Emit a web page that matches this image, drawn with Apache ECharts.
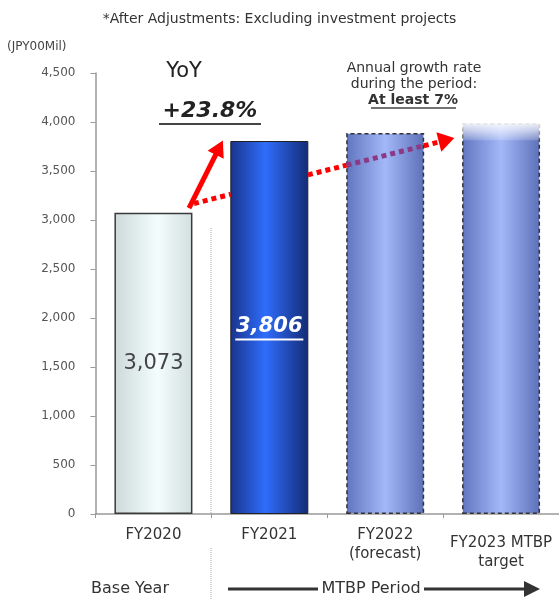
<!DOCTYPE html>
<html>
<head>
<meta charset="utf-8">
<style>
  html, body { margin: 0; padding: 0; background: #fff; }
  #chart { width: 559px; height: 599px; }
</style>
<script src="https://cdn.jsdelivr.net/npm/echarts@6/dist/echarts.min.js"></script>
</head>
<body>
<div id="chart"></div>
<script>
var FONT = 'DejaVu Sans';

// chart data
var categories = ['FY2020', 'FY2021', 'FY2022\n(forecast)', 'FY2023 MTBP\ntarget'];
var salesValues = [3073, 3806, 3888, 3990];
var yMin = 0;
var yMax = 4500;
var yStep = 500;

// annotation arrows, in (category index, value) units
var yoyArrow = [[0.307, 3122], [0.568, 3738]];
var trendArrow = [[0.35, 3168], [2.53, 3816]];

var BAR_HALF = 0.333;

function fmt(v) {
    return Number(v).toLocaleString('en-US');
}

function hGrad(stops) {
    return {
        type: 'linear', x: 0, y: 0, x2: 1, y2: 0,
        colorStops: stops
    };
}

var barStyles = [
    {
        color: hGrad([
            { offset: 0, color: '#cdd9d9' },
            { offset: 0.55, color: '#f3fdfd' },
            { offset: 1, color: '#d3dede' }
        ]),
        borderColor: '#3a3a3a', borderWidth: 1.5
    },
    {
        color: hGrad([
            { offset: 0, color: '#19348c' },
            { offset: 0.45, color: '#2f6dfc' },
            { offset: 1, color: '#142b75' }
        ]),
        borderColor: '#222', borderWidth: 1
    },
    {
        color: hGrad([
            { offset: 0, color: '#6175bf' },
            { offset: 0.5, color: '#a3b8f8' },
            { offset: 1, color: '#5d70b8' }
        ]),
        borderColor: '#333', borderWidth: 1.5, borderType: [4, 3]
    },
    {
        color: hGrad([
            { offset: 0, color: '#6175bf' },
            { offset: 0.5, color: '#a3b8f8' },
            { offset: 1, color: '#5d70b8' }
        ]),
        borderColor: '#333', borderWidth: 1.5, borderType: [4, 3]
    }
];

var barLabels = [
    {
        show: true, position: 'inside',
        color: '#444', fontSize: 21, fontFamily: FONT,
        formatter: function (p) { return fmt(p.value); }
    },
    {
        show: true, position: 'inside',
        formatter: function (p) { return '{v|' + fmt(p.value) + '}\n{u|}'; },
        rich: {
            v: { color: '#fff', fontSize: 21, fontWeight: 'bold', fontStyle: 'italic', fontFamily: FONT, lineHeight: 24 },
            u: { width: 68, height: 2, backgroundColor: '#fff' }
        }
    },
    { show: false },
    { show: false }
];

var barData = salesValues.map(function (v, i) {
    return { value: v, itemStyle: barStyles[i], label: barLabels[i] };
});

// top fade only on the target bar
var fadeData = salesValues.map(function (v, i) {
    return i === 3 ? v : '-';
});

function trendAt(u) {
    var a = trendArrow[0], b = trendArrow[1];
    var t = (u - a[0]) / (b[0] - a[0]);
    return [u, a[1] + (b[1] - a[1]) * t];
}

var RED = '#ff0000';
var PURPLE = '#8c3a86';

var trendSegments = [
    { coords: [trendArrow[0], trendAt(1 - BAR_HALF)] },
    { coords: [trendAt(1 + BAR_HALF), trendAt(2 - BAR_HALF)] },
    { coords: [trendAt(2 - BAR_HALF), trendAt(2 + BAR_HALF)], lineStyle: { color: PURPLE } }
];
var trendHead = [{ coords: [trendAt(2 + BAR_HALF), trendArrow[1]] }];

var chart = echarts.init(document.getElementById('chart'), null, { renderer: 'canvas' });

var option = {
    backgroundColor: '#fff',
    animation: false,
    title: {
        text: '*After Adjustments: Excluding investment projects',
        left: 'center',
        top: 7,
        textStyle: { fontFamily: FONT, fontSize: 14, fontWeight: 'normal', color: '#333' }
    },
    grid: { left: 95.5, right: -5, top: 73, bottom: 85 },
    xAxis: [
        {
            type: 'category',
            data: categories.map(function (c, i) {
                return i === 3 ? { value: c, textStyle: { padding: [8, 0, 0, 0] } } : c;
            }),
            axisLine: { lineStyle: { color: '#999', width: 1.5 } },
            axisTick: { show: true, length: 4, lineStyle: { color: '#999' } },
            axisLabel: {
                interval: 0, margin: 12,
                color: '#333', fontSize: 15, lineHeight: 19, fontFamily: FONT
            }
        },
        {
            type: 'value',
            min: -0.5, max: 3.5,
            show: false
        }
    ],
    yAxis: {
        type: 'value',
        min: yMin, max: yMax, interval: yStep,
        axisLine: { show: true, onZero: false, lineStyle: { color: '#999', width: 1.5 } },
        axisTick: { show: true, length: 5, lineStyle: { color: '#999' } },
        splitLine: { show: false },
        axisLabel: {
            color: '#555', fontSize: 12, fontFamily: FONT, margin: 20,
            formatter: function (v) { return fmt(v); }
        }
    },
    series: [
        {
            type: 'bar',
            barWidth: 78,
            barGap: '-100%',
            data: barData,
            z: 2
        },
        {
            type: 'bar',
            barWidth: 78,
            barGap: '-100%',
            data: fadeData,
            silent: true,
            z: 3,
            itemStyle: {
                color: {
                    type: 'linear', x: 0, y: 0, x2: 0, y2: 1,
                    colorStops: [
                        { offset: 0, color: 'rgba(255,255,255,0.9)' },
                        { offset: 0.02, color: 'rgba(255,255,255,0.6)' },
                        { offset: 0.042, color: 'rgba(255,255,255,0.2)' },
                        { offset: 0.046, color: 'rgba(255,255,255,0)' },
                        { offset: 1, color: 'rgba(255,255,255,0)' }
                    ]
                }
            }
        },
        {
            type: 'lines',
            coordinateSystem: 'cartesian2d',
            xAxisIndex: 1, yAxisIndex: 0,
            z: 5,
            symbol: 'none',
            lineStyle: { color: RED, width: 5, type: [5, 4], opacity: 1, cap: 'butt' },
            data: trendSegments
        },
        {
            type: 'lines',
            coordinateSystem: 'cartesian2d',
            xAxisIndex: 1, yAxisIndex: 0,
            z: 5,
            symbol: ['none', 'triangle'],
            symbolSize: [[1, 1], [20, 16]],
            lineStyle: { color: RED, width: 5, type: [5, 4], opacity: 1, cap: 'butt' },
            data: trendHead
        },
        {
            type: 'lines',
            coordinateSystem: 'cartesian2d',
            xAxisIndex: 1, yAxisIndex: 0,
            z: 6,
            symbol: ['none', 'triangle'],
            symbolSize: [[1, 1], [18, 16]],
            lineStyle: { color: RED, width: 5, type: 'solid', opacity: 1 },
            data: [{ coords: yoyArrow }]
        }
    ],
    graphic: [
        {
            type: 'text', x: 7, y: 47,
            style: { text: '(JPY00Mil)', fontFamily: FONT, fontSize: 12, fill: '#444', textAlign: 'left', textVerticalAlign: 'middle' }
        },
        {
            type: 'text', x: 184, y: 72,
            style: { text: 'YoY', fontFamily: FONT, fontSize: 21, fill: '#222', textAlign: 'center', textVerticalAlign: 'middle' }
        },
        {
            type: 'text', x: 210, y: 111,
            style: { text: '+23.8%', fontFamily: FONT, fontSize: 22, fontWeight: 'bold', fontStyle: 'italic', fill: '#222', textAlign: 'center', textVerticalAlign: 'middle' }
        },
        {
            type: 'line', shape: { x1: 159, y1: 124, x2: 261, y2: 124 },
            style: { stroke: '#444', lineWidth: 2 }
        },
        {
            type: 'text', x: 414, y: 68,
            style: { text: 'Annual growth rate', fontFamily: FONT, fontSize: 14, fill: '#333', textAlign: 'center', textVerticalAlign: 'middle' }
        },
        {
            type: 'text', x: 414, y: 84,
            style: { text: 'during the period:', fontFamily: FONT, fontSize: 14, fill: '#333', textAlign: 'center', textVerticalAlign: 'middle' }
        },
        {
            type: 'text', x: 413, y: 100,
            style: { text: 'At least 7%', fontFamily: FONT, fontSize: 14, fontWeight: 'bold', fill: '#333', textAlign: 'center', textVerticalAlign: 'middle' }
        },
        {
            type: 'line', shape: { x1: 371, y1: 108, x2: 456, y2: 108 },
            style: { stroke: '#444', lineWidth: 1.5 }
        },
        {
            type: 'line', shape: { x1: 211, y1: 228, x2: 211, y2: 513 },
            style: { stroke: '#aaa', lineWidth: 1, lineDash: [1, 1] }
        },
        {
            type: 'line', shape: { x1: 211, y1: 548, x2: 211, y2: 599 },
            style: { stroke: '#aaa', lineWidth: 1, lineDash: [1, 1] }
        },
        {
            type: 'text', x: 130, y: 589,
            style: { text: 'Base Year', fontFamily: FONT, fontSize: 16, fill: '#333', textAlign: 'center', textVerticalAlign: 'middle' }
        },
        {
            type: 'text', x: 371, y: 589,
            style: { text: 'MTBP Period', fontFamily: FONT, fontSize: 16, fill: '#333', textAlign: 'center', textVerticalAlign: 'middle' }
        },
        {
            type: 'line', shape: { x1: 228, y1: 589, x2: 318, y2: 589 },
            style: { stroke: '#333', lineWidth: 3 }
        },
        {
            type: 'line', shape: { x1: 424, y1: 589, x2: 528, y2: 589 },
            style: { stroke: '#333', lineWidth: 3 }
        },
        {
            type: 'polygon', shape: { points: [[524, 581], [540, 589], [524, 597]] },
            style: { fill: '#333' }
        }
    ]
};

chart.setOption(option);
</script>
</body>
</html>
